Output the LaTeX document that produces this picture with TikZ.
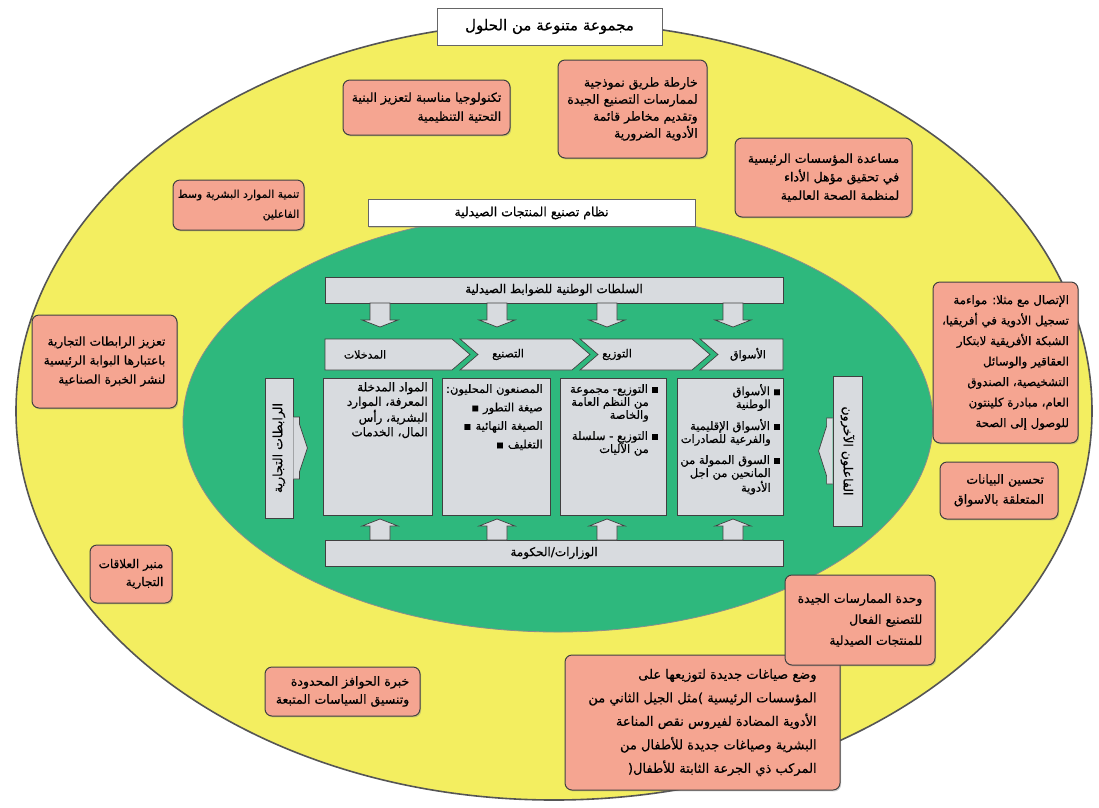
\documentclass[tikz,border=0pt]{standalone}
\usepackage{fontspec}
\newfontfamily\arabicfont[Script=Arabic,FakeBold=0.6]{DejaVu Sans}
\TeXXeTstate=1
\usetikzlibrary{shapes.geometric,shadows}
\newcommand\AR[1]{\beginR#1\endR}
\definecolor{yellowc}{RGB}{243,238,96}
\definecolor{greenc}{RGB}{46,184,125}
\definecolor{pinkc}{RGB}{245,165,145}
\definecolor{grayc}{RGB}{216,219,223}
\definecolor{edgec}{RGB}{85,85,85}
\newcommand\DArrow[3]{\draw[arrowbox] (#1-10,#2) -- (#1+10,#2) -- (#1+10,#3-7) -- (#1+18,#3-7) -- (#1,#3) -- (#1-18,#3-7) -- (#1-10,#3-7) -- cycle;}
\newcommand\UArrow[3]{\draw[arrowbox] (#1-10,#2) -- (#1+10,#2) -- (#1+10,#3+7) -- (#1+18,#3+7) -- (#1,#3) -- (#1-18,#3+7) -- (#1-10,#3+7) -- cycle;}
\newcommand\pf[2]{\arabicfont\fontsize{#1}{#2}\selectfont}
\begin{document}
\begin{tikzpicture}[x=1pt,y=-1pt,
  pinkbox/.style={draw=black!75, line width=1pt, fill=pinkc, rounded corners=7pt,
    drop shadow={shadow xshift=1.2pt,shadow yshift=-1.4pt,opacity=0.35},
    font=\pf{12.5}{18}, align=right, inner sep=0pt},
  titlebox/.style={draw=black!60, line width=1pt, fill=white,
    drop shadow={shadow xshift=1.2pt,shadow yshift=-1.4pt,opacity=0.3},
    font=\pf{15}{17}, inner sep=0pt},
  graybox/.style={draw=black!75, line width=0.8pt, fill=grayc, inner sep=0pt},
  arrowbox/.style={draw=black!75, line width=0.7pt, fill=grayc},
  lbl/.style={font=\pf{11}{13}, inner sep=0pt},
  small/.style={font=\pf{11.5}{13}, align=right, inner sep=0pt, anchor=north east},
]
\useasboundingbox (0,0) rectangle (1099,807);
\fill[white] (0,0) rectangle (1099,807);

% ellipses
\node[ellipse, draw=edgec, line width=1.6pt, fill=yellowc, minimum width=1076pt, minimum height=778pt, inner sep=0pt] (outer) at (554,411) {};
\node[ellipse, draw=black!45, line width=0.8pt, fill=greenc, minimum width=750pt, minimum height=420pt, inner sep=0pt] (inner) at (558,422) {};

% titles
\node[titlebox, minimum width=225pt, minimum height=37pt] (title) at (549.5,26.5) {\AR{مجموعة متنوعة من الحلول}};
\node[titlebox, minimum width=327pt, minimum height=27pt, font=\pf{12.5}{14}] (systitle) at (531.5,213) {\AR{نظام تصنيع المنتجات الصيدلية}};

% pink boxes
\node[pinkbox, minimum width=167pt, minimum height=55pt, font=\pf{12.5}{19}] (p1) at (426.5,107.5) {\AR{تكنولوجيا مناسبة لتعزيز البنية}\\\AR{التحتية التنظيمية}};
\node[pinkbox, minimum width=149pt, minimum height=98pt, font=\pf{12.5}{17}] (p2) at (632.5,109) {\AR{خارطة طريق نموذجية}\\\AR{لممارسات التصنيع الجيدة}\\\AR{وتقديم مخاطر قائمة}\\\AR{الأدوية الضرورية}};
\node[pinkbox, minimum width=177pt, minimum height=79pt, font=\pf{12.5}{18.5}] (p3) at (823.5,177.5) {\AR{مساعدة المؤسسات الرئيسية}\\\AR{في تحقيق مؤهل الأداء}\\\AR{لمنظمة الصحة العالمية}};
\node[pinkbox, minimum width=131pt, minimum height=50pt, font=\pf{10.8}{20}] (p4) at (238.5,205) {\AR{تنمية الموارد البشرية وسط}\\\AR{الفاعلين}};
\node[pinkbox, minimum width=145pt, minimum height=93pt, font=\pf{12.2}{19}] (p5) at (104.5,361.5) {\AR{تعزيز الرابطات التجارية}\\\AR{باعتبارها البوابة الرئيسية}\\\AR{لنشر الخبرة الصناعية}};
\node[pinkbox, minimum width=145pt, minimum height=161pt, font=\pf{11.8}{20.5}] (p6) at (1005.5,362.5) {\AR{الإتصال مع مثلا: مواءمة}\\\AR{تسجيل الأدوية في أفريقيا،}\\\AR{الشبكة الأفريقية لابتكار}\\\AR{العقاقير والوسائل}\\\AR{التشخيصية، الصندوق}\\\AR{العام، مبادرة كلينتون}\\\AR{للوصول إلى الصحة}};
\node[pinkbox, minimum width=118pt, minimum height=57pt, font=\pf{12.5}{20}] (p7) at (999,490.5) {\AR{تحسين البيانات}\\\AR{المتعلقة بالاسواق}};
\node[pinkbox, minimum width=82pt, minimum height=58pt, font=\pf{12}{18}] (p8) at (131,574) {\AR{منبر العلاقات}\\\AR{التجارية}};
\node[pinkbox, minimum width=155pt, minimum height=49pt, font=\pf{12.5}{18}] (p9) at (342.5,691.5) {\AR{خبرة الحوافز المحدودة}\\\AR{وتنسيق السياسات المتبعة}};
\node[pinkbox, minimum width=275pt, minimum height=135pt, font=\pf{13}{23.5}] (p10) at (702.5,722.5) {\AR{وضع صياغات جديدة لتوزيعها على}\\\AR{المؤسسات الرئيسية )مثل الجيل الثاني من}\\\AR{الأدوية المضادة لفيروس نقص المناعة}\\\AR{البشرية وصياغات جديدة للأطفال من}\\\AR{المركب ذي الجرعة الثابتة للأطفال(}};
\node[pinkbox, minimum width=150pt, minimum height=90pt, font=\pf{12.5}{21}] (p11) at (860,620) {\AR{وحدة الممارسات الجيدة}\\\AR{للتصنيع الفعال}\\\AR{للمنتجات الصيدلية}};

% top and bottom bars
\node[graybox, minimum width=458pt, minimum height=26pt, lbl, font=\pf{12}{14}] (regul) at (554,290) {\AR{السلطات الوطنية للضوابط الصيدلية}};
\node[graybox, minimum width=458pt, minimum height=26pt, lbl, font=\pf{12}{14}] (gov) at (554,553) {\AR{الوزارات/الحكومة}};

% down and up arrows
\foreach \xx in {380,497,607,733} {\DArrow{\xx}{303}{327}}
\foreach \xx in {380,497,607,733} {\UArrow{\xx}{540}{519}}

% chevrons
\draw[arrowbox] (325,339) -- (452,339) -- (470,354.5) -- (452,370) -- (325,370) -- cycle;
\draw[arrowbox] (460,339) -- (572,339) -- (590,354.5) -- (572,370) -- (460,370) -- (478,354.5) -- cycle;
\draw[arrowbox] (580,339) -- (692,339) -- (710,354.5) -- (692,370) -- (580,370) -- (598,354.5) -- cycle;
\draw[arrowbox] (700,339) -- (783,339) -- (783,370) -- (700,370) -- (718,354.5) -- cycle;
\node[lbl] (c1) at (365,354.5) {\AR{المدخلات}};
\node[lbl] (c2) at (508,354.5) {\AR{التصنيع}};
\node[lbl] (c3) at (617,354.5) {\AR{التوزيع}};
\node[lbl] (c4) at (748,354.5) {\AR{الأسواق}};

% content boxes
\node[graybox, minimum width=109pt, minimum height=137pt] (b1) at (377.5,446.5) {};
\node[graybox, minimum width=108pt, minimum height=137pt] (b2) at (496,446.5) {};
\node[graybox, minimum width=106pt, minimum height=137pt] (b3) at (613,446.5) {};
\node[graybox, minimum width=106pt, minimum height=137pt] (b4) at (730,446.5) {};

\node[small, font=\pf{12}{14.5}] (t1) at (428,382) {\AR{المواد المدخلة}\\\AR{المعرفة، الموارد}\\\AR{البشرية، رأس}\\\AR{المال، الخدمات}};
\node[small, font=\pf{11.5}{18.5}] (t2) at (543,384) {\AR{المصنعون المحليون:}\\\AR{صيغة التطور\hspace{4pt}▪}\\\AR{الصيغة النهائية\hspace{4pt}▪}\\\AR{التغليف\hspace{4pt}▪}};
\node[small] (t3) at (659,384) {\AR{▪\hspace{3pt}التوزيع- مجموعة}\\\AR{\hspace*{10pt}من النظم العامة}\\\AR{\hspace*{10pt}والخاصة}\\[8pt]\AR{▪\hspace{3pt}التوزيع - سلسلة}\\\AR{\hspace*{10pt}من الآليات}};
\node[small] (t4) at (781,384) {\AR{▪\hspace{3pt}الأسواق}\\\AR{\hspace*{10pt}الوطنية}\\[7pt]\AR{▪\hspace{3pt}الأسواق الإقليمية}\\\AR{\hspace*{10pt}والفرعية للصادرات}\\[8pt]\AR{▪\hspace{3pt}السوق الممولة من}\\\AR{\hspace*{10pt}المانحين من اجل}\\\AR{\hspace*{10pt}الأدوية}};

% side bars
\node[graybox, rotate=90, minimum width=140pt, minimum height=28pt, lbl, font=\pf{12.5}{14}] (trade) at (279,448) {\AR{الرابطات التجارية}};
\node[graybox, rotate=-90, minimum width=150pt, minimum height=29pt, lbl, font=\pf{12.5}{14}] (actors) at (847.5,451) {\AR{الفاعلون الآخرون}};
\draw[arrowbox] (trade.south) ++(0,-31) -- ++(6,0) -- ++(0,7) -- ++(8,24) -- ++(-8,24) -- ++(0,7) -- ++(-6,0);
\draw[arrowbox] (actors.south) ++(0,-33) -- ++(-6,0) -- ++(0,8) -- ++(-8,25) -- ++(8,25) -- ++(0,8) -- ++(6,0);
\end{tikzpicture}
\end{document}
